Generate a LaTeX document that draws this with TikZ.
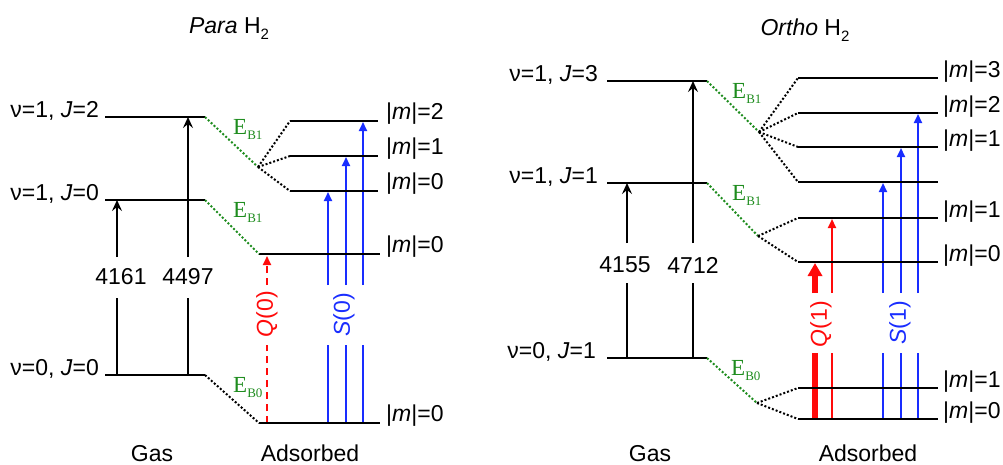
\documentclass[tikz,border=0pt]{standalone}
\usepackage{fontspec}
\setmainfont{Liberation Sans}
\newfontfamily\serifE{Liberation Serif}
\usetikzlibrary{arrows.meta,calc}
\definecolor{eg}{RGB}{30,140,30}
\definecolor{rr}{RGB}{255,10,10}
\definecolor{bb}{RGB}{25,45,255}
\newcommand{\EB}[1]{{\serifE\fontsize{23}{23}\selectfont E\raisebox{-5pt}{\fontsize{13}{13}\selectfont B#1}}}
\newcommand{\mlab}[1]{|\textit{m}|=#1}
\newcommand{\Htwo}{H\raisebox{-6pt}{\fontsize{15}{15}\selectfont 2}}
\tikzset{
  lvl/.style={line width=2pt},
  dotk/.style={line width=2pt, dash pattern=on 2pt off 2pt},
  dotg/.style={dotk, draw=eg},
  txt/.style={font=\fontsize{23}{27}\selectfont, inner sep=0pt},
  elab/.style={text=eg, anchor=base west, inner sep=0pt},
  mtxt/.style={txt, anchor=base west},
  vtxt/.style={txt, anchor=base east},
  blkarrow/.style={line width=2pt, -{Stealth[length=11pt,width=10pt,inset=4pt]}},
  bluel/.style={line width=2pt, draw=bb},
  bluea/.style={bluel, -{Triangle[length=9pt,width=8pt]}},
  redl/.style={line width=2pt, draw=rr},
  reda/.style={redl, -{Triangle[length=9pt,width=8pt]}},
  reddash/.style={redl, dash pattern=on 7pt off 5pt},
  redthick/.style={line width=6.5pt, draw=rr},
  redthicka/.style={redthick, -{Triangle[length=13pt,width=14pt]}},
}
\begin{document}
\begin{tikzpicture}[x=1pt,y=-1pt]
\useasboundingbox (0,0) rectangle (1003,464);

% ================= PARA =================
\node[txt, anchor=base] (ptitle) at (229,33) {\textit{Para} \Htwo};

% gas levels
\coordinate (pJ2a) at (105,117); \coordinate (pJ2b) at (205,117);
\coordinate (pJ0a) at (105,200); \coordinate (pJ0b) at (205,200);
\coordinate (pG0a) at (105,375); \coordinate (pG0b) at (205,375);
\node[vtxt] (lpJ2) at (99,117) {ν=1, \textit{J}=2};
\node[vtxt] (lpJ0) at (99,200) {ν=1, \textit{J}=0};
\node[vtxt] (lpG0) at (99,375) {ν=0, \textit{J}=0};

% gas arrows
\coordinate (xA) at (117,0); \coordinate (xB) at (188,0);
\coordinate (pgt) at (0,257); \coordinate (pgb) at (0,298);
\node[txt] (n4161) at (121,277) {4161};
\node[txt] (n4497) at (188,277) {4497};
\draw[lvl] (xA |- pG0a) -- (xA |- pgb);
\draw[blkarrow] (xA |- pgt) -- (xA |- pJ0a);
\draw[lvl] (xB |- pG0a) -- (xB |- pgb);
\draw[blkarrow] (xB |- pgt) -- (xB |- pJ2a);

% adsorbed levels
\coordinate (pF1) at (258,167);
\coordinate (pm2a) at (290,121); \coordinate (pm2b) at (378,121);
\coordinate (pm1a) at (290,156); \coordinate (pm1b) at (378,156);
\coordinate (pm0a) at (290,191); \coordinate (pm0b) at (378,191);
\coordinate (pQa) at (259,254); \coordinate (pQb) at (380,254);
\coordinate (pBa) at (259,423); \coordinate (pBb) at (380,423);

% transitions adsorbed
\coordinate (xQ0) at (267,0);
\coordinate (xS1) at (328,0); \coordinate (xS2) at (346,0); \coordinate (xS3) at (363,0);
\coordinate (pat) at (0,285); \coordinate (pab) at (0,345);
\draw[reddash] (xQ0 |- pBa) -- (xQ0 |- pab);
\draw[reddash, -{Triangle[length=9pt,width=8pt]}] (xQ0 |- pat) -- ($(xQ0 |- pQa)+(0,2)$);
\node[txt, text=rr, rotate=90] (lq0) at (267,314) {\textit{Q}(0)};
\draw[bluel] (xS1 |- pBa) -- (xS1 |- pab);
\draw[bluel] (xS2 |- pBa) -- (xS2 |- pab);
\draw[bluel] (xS3 |- pBa) -- (xS3 |- pab);
\draw[bluea] (xS1 |- pat) -- ($(xS1 |- pm0a)+(0,1)$);
\draw[bluea] (xS2 |- pat) -- ($(xS2 |- pm1a)+(0,1)$);
\draw[bluea] (xS3 |- pat) -- ($(xS3 |- pm2a)+(0,1)$);
\node[txt, text=bb, rotate=90] (ls0) at (344,315) {\textit{S}(0)};

% level lines
\draw[lvl] (pJ2a) -- (pJ2b);
\draw[lvl] (pJ0a) -- (pJ0b);
\draw[lvl] (pG0a) -- (pG0b);
\draw[lvl] (pm2a) -- (pm2b);
\draw[lvl] (pm1a) -- (pm1b);
\draw[lvl] (pm0a) -- (pm0b);
\draw[lvl] (pQa) -- (pQb);
\draw[lvl] (pBa) -- (pBb);

% correlation lines
\draw[dotg] (pJ2b) -- (pF1);
\draw[dotk] (pF1) -- (pm2a);
\draw[dotk] (pF1) -- (pm1a);
\draw[dotk] (pF1) -- (pm0a);
\draw[dotg] (pJ0b) -- (pQa);
\draw[dotk] (pG0b) -- (pBa);

\node[elab] (peb1a) at (233,134) {\EB{1}};
\node[elab] (peb1b) at (233,217) {\EB{1}};
\node[elab] (peb0) at (233,392) {\EB{0}};

\node[mtxt] (lpm2) at (386,119) {\mlab{2}};
\node[mtxt] (lpm1) at (386,154) {\mlab{1}};
\node[mtxt] (lpm0) at (386,189) {\mlab{0}};
\node[mtxt] (lpq0) at (386,252) {\mlab{0}};
\node[mtxt] (lpb0) at (386,421) {\mlab{0}};

\node[txt, anchor=base] (pgas) at (152,461) {Gas};
\node[txt, anchor=base] (pads) at (310,461) {Adsorbed};

% ================= ORTHO =================
\node[txt, anchor=base] (otitle) at (805,35) {\textit{Ortho} \Htwo};

\coordinate (oJ3a) at (607,81);  \coordinate (oJ3b) at (707,81);
\coordinate (oJ1a) at (607,183); \coordinate (oJ1b) at (707,183);
\coordinate (oG1a) at (607,358); \coordinate (oG1b) at (707,358);
\node[vtxt] (loJ3) at (598,81) {ν=1, \textit{J}=3};
\node[vtxt] (loJ1) at (598,183) {ν=1, \textit{J}=1};
\node[vtxt] (loG1) at (596,358) {ν=0, \textit{J}=1};

\coordinate (xC) at (627,0); \coordinate (xD) at (693,0);
\coordinate (ogt) at (0,243); \coordinate (ogb) at (0,283);
\node[txt] (n4155) at (625,265) {4155};
\node[txt] (n4712) at (693,265) {4712};
\draw[lvl] (xC |- oG1a) -- (xC |- ogb);
\draw[blkarrow] (xC |- ogt) -- (xC |- oJ1a);
\draw[lvl] (xD |- oG1a) -- (xD |- ogb);
\draw[blkarrow] (xD |- ogt) -- (xD |- oJ3a);

% adsorbed levels
\coordinate (oF1) at (759,132);
\coordinate (oF2) at (758,236);
\coordinate (oF3) at (757,403);
\coordinate (om3a) at (798,78);  \coordinate (om3b) at (938,78);
\coordinate (om2a) at (798,113); \coordinate (om2b) at (938,113);
\coordinate (om1a) at (798,147); \coordinate (om1b) at (938,147);
\coordinate (om0a) at (798,182); \coordinate (om0b) at (938,182);
\coordinate (on1a) at (798,218); \coordinate (on1b) at (938,218);
\coordinate (on0a) at (798,262); \coordinate (on0b) at (938,262);
\coordinate (ob1a) at (798,388); \coordinate (ob1b) at (938,388);
\coordinate (ob0a) at (798,419); \coordinate (ob0b) at (938,419);

\coordinate (xQa) at (815,0); \coordinate (xQb) at (832,0);
\coordinate (xT1) at (883,0); \coordinate (xT2) at (901,0); \coordinate (xT3) at (918,0);
\coordinate (oat) at (0,293); \coordinate (oab) at (0,353);
\draw[redthick] (xQa |- ob0a) -- (xQa |- oab);
\draw[redthicka] (xQa |- oat) -- ($(xQa |- on0a)+(0,1)$);
\draw[redl] (xQb |- ob0a) -- (xQb |- oab);
\draw[reda] (xQb |- oat) -- ($(xQb |- on1a)+(0,1)$);
\node[txt, text=rr, rotate=90] (lq1) at (821,324) {\textit{Q}(1)};
\draw[bluel] (xT1 |- ob0a) -- (xT1 |- oab);
\draw[bluel] (xT2 |- ob0a) -- (xT2 |- oab);
\draw[bluel] (xT3 |- ob0a) -- (xT3 |- oab);
\draw[bluea] (xT1 |- oat) -- ($(xT1 |- om0a)+(0,1)$);
\draw[bluea] (xT2 |- oat) -- ($(xT2 |- om1a)+(0,1)$);
\draw[bluea] (xT3 |- oat) -- ($(xT3 |- om2a)+(0,1)$);
\node[txt, text=bb, rotate=90] (ls1) at (900,323) {\textit{S}(1)};

\draw[lvl] (oJ3a) -- (oJ3b);
\draw[lvl] (oJ1a) -- (oJ1b);
\draw[lvl] (oG1a) -- (oG1b);
\foreach \l in {om3,om2,om1,om0,on1,on0,ob1,ob0}{\draw[lvl] (\l a) -- (\l b);}

\draw[dotg] (oJ3b) -- (oF1);
\foreach \l in {om3,om2,om1,om0}{\draw[dotk] (oF1) -- (\l a);}
\draw[dotg] (oJ1b) -- (oF2);
\foreach \l in {on1,on0}{\draw[dotk] (oF2) -- (\l a);}
\draw[dotg] (oG1b) -- (oF3);
\foreach \l in {ob1,ob0}{\draw[dotk] (oF3) -- (\l a);}

\node[elab] (oeb1a) at (732,98) {\EB{1}};
\node[elab] (oeb1b) at (732,200) {\EB{1}};
\node[elab] (oeb0) at (731,375) {\EB{0}};

\node[mtxt] (lom3) at (943,77) {\mlab{3}};
\node[mtxt] (lom2) at (943,112) {\mlab{2}};
\node[mtxt] (lom1) at (943,146) {\mlab{1}};
\node[mtxt] (lon1) at (943,217) {\mlab{1}};
\node[mtxt] (lon0) at (943,261) {\mlab{0}};
\node[mtxt] (lob1) at (943,387) {\mlab{1}};
\node[mtxt] (lob0) at (943,418) {\mlab{0}};

\node[txt, anchor=base] (ogas) at (650,461) {Gas};
\node[txt, anchor=base] (oads) at (868,461) {Adsorbed};
\end{tikzpicture}
\end{document}
